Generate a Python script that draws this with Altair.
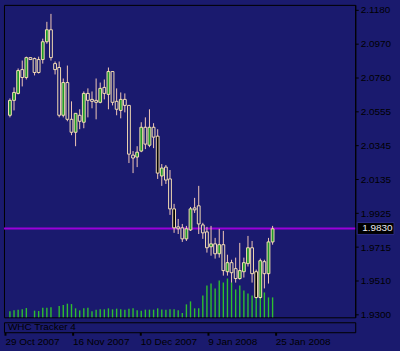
import altair as alt
import pandas as pd

# ---- data (daily OHLC, trading-day index) ----
opens = [2.0529, 2.0621, 2.0664, 2.0811, 2.0762, 2.0885, 2.0879, 2.0873, 2.0873, 2.0983,
         2.1057, 2.0848, 2.0824, 2.0529, 2.0731, 2.0504, 2.0424, 2.0529, 2.0486, 2.0664,
         2.0627, 2.0621, 2.0609, 2.0701, 2.0658, 2.0799, 2.0615, 2.0559, 2.0627, 2.0590,
         2.0283, 2.0271, 2.0308, 2.0455, 2.0344, 2.0455, 2.0400, 2.0154, 2.0209, 2.0136,
         1.9951, 1.9840, 1.9834, 1.9766, 1.9821, 1.9957, 1.9970, 1.9852, 1.9809, 1.9717,
         1.9735, 1.9674, 1.9730, 1.9563, 1.9619, 1.9582, 1.9521, 1.9563, 1.9613, 1.9711,
         1.9563, 1.9404, 1.9625, 1.9551, 1.9747]
highs = [2.0633, 2.0701, 2.0818, 2.0867, 2.0891, 2.0885, 2.0885, 2.0891, 2.1002, 2.1106,
         2.1155, 2.0861, 2.0861, 2.0756, 2.0836, 2.0615, 2.0541, 2.0566, 2.0676, 2.0695,
         2.0676, 2.0756, 2.0731, 2.0750, 2.0824, 2.0799, 2.0695, 2.0670, 2.0664, 2.0590,
         2.0308, 2.0338, 2.0486, 2.0516, 2.0566, 2.0480, 2.0443, 2.0228, 2.0222, 2.0191,
         1.9982, 1.9889, 1.9858, 1.9846, 1.9963, 2.0019, 2.0093, 1.9865, 1.9840, 1.9846,
         1.9772, 1.9828, 1.9815, 1.9668, 1.9637, 1.9650, 1.9741, 1.9650, 1.9784, 1.9753,
         1.9576, 1.9644, 1.9637, 1.9772, 1.9846]
lows = [2.0516, 2.0559, 2.0658, 2.0707, 2.0750, 2.0873, 2.0775, 2.0787, 2.0848, 2.0971,
        2.0867, 2.0781, 2.0516, 2.0516, 2.0492, 2.0406, 2.0338, 2.0443, 2.0449, 2.0516,
        2.0572, 2.0504, 2.0603, 2.0627, 2.0566, 2.0590, 2.0529, 2.0510, 2.0547, 2.0234,
        2.0172, 2.0209, 2.0301, 2.0320, 2.0332, 2.0326, 2.0136, 2.0093, 2.0105, 1.9914,
        1.9803, 1.9796, 1.9747, 1.9753, 1.9815, 1.9926, 1.9796, 1.9766, 1.9681, 1.9662,
        1.9644, 1.9650, 1.9539, 1.9539, 1.9496, 1.9496, 1.9514, 1.9527, 1.9595, 1.9496,
        1.9398, 1.9398, 1.9460, 1.9490, 1.9730]
closes = [2.0621, 2.0670, 2.0805, 2.0762, 2.0885, 2.0873, 2.0793, 2.0793, 2.0983, 2.1057,
          2.0885, 2.0811, 2.0529, 2.0731, 2.0504, 2.0424, 2.0541, 2.0492, 2.0664, 2.0621,
          2.0615, 2.0609, 2.0695, 2.0664, 2.0799, 2.0609, 2.0566, 2.0627, 2.0590, 2.0289,
          2.0265, 2.0301, 2.0455, 2.0351, 2.0455, 2.0394, 2.0172, 2.0203, 2.0129, 1.9951,
          1.9834, 1.9828, 1.9766, 1.9828, 1.9951, 1.9945, 1.9858, 1.9803, 1.9711, 1.9735,
          1.9674, 1.9730, 1.9570, 1.9619, 1.9557, 1.9521, 1.9570, 1.9619, 1.9711, 1.9551,
          1.9404, 1.9631, 1.9551, 1.9747, 1.9828]
volumes = [600, 700, 770, 800, 930, 0, 670, 630, 970, 970,
           1000, 0, 1130, 1230, 1370, 1330, 900, 700, 900, 970,
           600, 770, 800, 800, 900, 800, 870, 800, 770, 870,
           900, 700, 670, 770, 770, 770, 900, 780, 770, 800,
           800, 700, 430, 1300, 1600, 900, 900, 2200, 3200, 3400,
           2900, 3700, 3500, 3900, 3500, 2800, 3200, 2700, 2400, 2200,
           3100, 2900, 2500, 2000, 2000]
solid_down_days = [36, 40, 60]

tick_idx = [0, 16, 32, 48, 64]
tick_labels = ["29 Oct 2007", "16 Nov 2007", "10 Dec 2007", "9 Jan 2008", "25 Jan 2008"]
price_ticks = [1.9300, 1.9510, 1.9715, 1.9925, 2.0135, 2.0345, 2.0555, 2.0760, 2.0970, 2.1180]
ref_level = 1.9830
panel_title = "WHC Tracker 4"

# ---- styling ----
BG = "#1a1a6e"
FONT = "Liberation Sans"
X_DOM = [-0.2356, 82.92]
Y_DOM = [1.92816, 2.12107]
W, H = 353, 314

kinds = []
for k, (o, c) in enumerate(zip(opens, closes)):
    if c > o:
        kinds.append("up")
    elif k in solid_down_days:
        kinds.append("solid")
    else:
        kinds.append("down")

df = pd.DataFrame({"i": list(range(len(opens))), "open": opens, "high": highs,
                   "low": lows, "close": closes, "vol": volumes, "kind": kinds})
lvl = pd.DataFrame({"level": [ref_level], "label": [f"{ref_level:.4f}"]})

xs = alt.Scale(domain=X_DOM, nice=False, zero=False)
ys = alt.Scale(domain=Y_DOM, nice=False, zero=False)

yaxis = alt.Axis(orient="right", values=price_ticks, format=".4f", tickSize=3,
                 tickColor="black", domainColor="black", labelColor="black",
                 labelFont=FONT, labelFontSize=10, labelPadding=2, grid=False,
                 labelFlush=False, labelOverlap=False, title=None)

base = alt.Chart(df)

vol = base.mark_bar(width=1.4, color="#2fbf2f").encode(
    x=alt.X("i:Q", scale=xs, axis=None),
    y=alt.Y("vol:Q", scale=alt.Scale(domain=[0, 31400], nice=False), axis=None),
)

line = alt.Chart(lvl).mark_rule(color="#9b00d9", strokeWidth=2).encode(
    y=alt.Y("level:Q", scale=ys, axis=yaxis)
)

wick = base.mark_rule(color="#f2c9b6", strokeWidth=1).encode(
    x=alt.X("i:Q", scale=xs, axis=None),
    y=alt.Y("low:Q", scale=ys, axis=yaxis),
    y2="high:Q",
)

body = base.mark_bar(width=2.8, stroke="#f5deb3", strokeWidth=1).encode(
    x=alt.X("i:Q", scale=xs, axis=None),
    y=alt.Y("open:Q", scale=ys, axis=yaxis),
    y2="close:Q",
    fill=alt.Fill("kind:N", scale=alt.Scale(domain=["up", "down", "solid"],
                                            range=["#1e9a28", BG, "#000000"]),
                  legend=None),
)

box = alt.Chart(lvl).mark_rect(color="black", height=12, stroke="#2a2a80", strokeWidth=1).encode(
    x=alt.value(355), x2=alt.value(392), y=alt.Y("level:Q", scale=ys, axis=yaxis)
)
box_txt = alt.Chart(lvl).mark_text(align="left", baseline="middle", color="#e8e8f0",
                                   font=FONT, fontSize=10).encode(
    x=alt.value(360), y=alt.Y("level:Q", scale=ys, axis=yaxis), text="label:N"
)

price = alt.layer(line, wick, body, box, box_txt)
main = alt.layer(vol, price).resolve_scale(y="independent").properties(width=W, height=H)

expr = "''"
for idx, lab in reversed(list(zip(tick_idx, tick_labels))):
    expr = f"datum.value == {idx} ? '{lab}' : " + expr

xaxis = alt.Axis(values=tick_idx, labelExpr=expr, tickSize=3, tickWidth=2,
                 tickColor="black", domain=False, grid=False, labelAlign="left",
                 labelBaseline="top", labelPadding=1, labelColor="black",
                 labelFont=FONT, labelFontSize=10, labelFlush=False,
                 labelOverlap=False, title=None)

tick_df = pd.DataFrame({"i": tick_idx})
strip_ticks = alt.Chart(tick_df).mark_point(opacity=0).encode(
    x=alt.X("i:Q", scale=xs, axis=xaxis)
)
strip_text = alt.Chart(pd.DataFrame({"t": [panel_title]})).mark_text(
    align="left", baseline="middle", color="black", font=FONT, fontSize=10
).encode(x=alt.value(4), y=alt.value(5), text="t:N")
bottom_bar = alt.Chart(pd.DataFrame({"a": [0]})).mark_rect(color="black").encode(
    x=alt.value(-3), x2=alt.value(397), y=alt.value(29), y2=alt.value(32)
)
strip = alt.layer(strip_ticks, strip_text, bottom_bar).properties(width=W, height=10)

chart = alt.vconcat(main, strip, spacing=1).properties(
    padding={"left": 0, "top": 3, "right": 0, "bottom": 0}
).configure(background=BG, font=FONT).configure_view(stroke="black", strokeWidth=1)

chart.save("out.html", embed_options={"renderer": "svg", "actions": False})
